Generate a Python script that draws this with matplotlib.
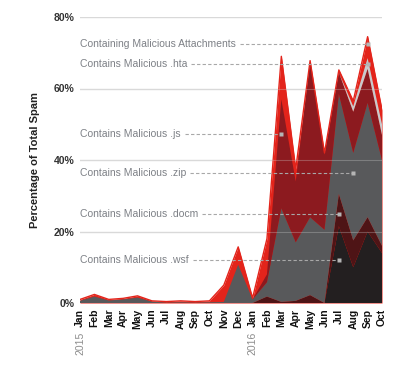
import numpy as np
import matplotlib
matplotlib.use("Agg")
import matplotlib.pyplot as plt
import matplotlib.transforms as mtransforms

# months Jan 2015 .. Oct 2016
months = ["Jan", "Feb", "Mar", "Apr", "May", "Jun", "Jul", "Aug", "Sep", "Oct", "Nov", "Dec",
          "Jan", "Feb", "Mar", "Apr", "May", "Jun", "Jul", "Aug", "Sep", "Oct"]
years = {0: "2015", 12: "2016"}

# share of total spam (%)
total = [1.0, 2.4, 1.0, 1.3, 2.0, 0.6, 0.4, 0.6, 0.4, 0.6, 5.0, 15.7,
         1.4, 18.0, 69.0, 37.5, 67.8, 42.0, 65.2, 56.5, 74.5, 54.0]
wsf = [0, 0, 0, 0, 0, 0, 0, 0, 0, 0, 0, 0,
       0, 0, 0, 0, 0, 0, 21.5, 10.0, 20.0, 14.0]
docm = [0, 0, 0, 0, 0, 0, 0, 0, 0, 0, 0, 0,
        0, 1.8, 0.3, 0.6, 2.2, 0, 9.0, 7.5, 4.0, 2.0]
zip_ = [0.6, 1.8, 0.7, 1.0, 1.5, 0.4, 0.1, 0.2, 0.1, 0.2, 0.3, 10.7,
        1.0, 4.0, 26.2, 16.4, 21.8, 20.5, 28.0, 24.5, 32.0, 24.0]
js = [0, 0, 0, 0, 0, 0, 0, 0, 0, 0, 0, 0,
      0, 2.2, 30.5, 17.0, 43.5, 21.0, 6.0, 11.5, 9.5, 7.0]
hta = [0, 0, 0, 0, 0, 0, 0, 0, 0, 0, 0, 0,
       0, 0, 0, 0, 0, 0, 0, 1.5, 3.0, 3.0]

# callouts: text, month index, value
callouts = [
    ("Containing Malicious Attachments", 20, 72.4),
    ("Contains Malicious .hta", 20, 66.9),
    ("Contains Malicious .js", 14, 47.3),
    ("Contains Malicious .zip", 19, 36.4),
    ("Contains Malicious .docm", 18, 24.9),
    ("Contains Malicious .wsf", 18, 12.0),
]

plt.rcParams["font.family"] = ["Liberation Sans", "DejaVu Sans"]

x = np.arange(len(months))

fig = plt.figure(figsize=(4.11, 3.72), dpi=100)
ax = fig.add_axes([80 / 411, 1 - 303 / 372, 302 / 411, 286 / 372])

# total drawn behind, the attachment types stacked on top
ax.fill_between(x, 0, total, color="#e3241b", lw=0, zorder=1)
ax.stackplot(x, wsf, docm, zip_, js, hta,
             colors=["#231f20", "#4e1416", "#58595b", "#8c1a1f", "#c9cacc"],
             lw=0, zorder=2)
ax.plot(x, total, color="#e3241b", lw=1.0, zorder=3)

ax.set_xlim(0, len(months) - 1)
ax.set_ylim(0, 80)
yt = [0, 20, 40, 60, 80]
ax.set_yticks(yt)
ax.set_yticklabels([f"{v}%" for v in yt], fontweight="bold", color="#333333", fontsize=7.5)
ax.set_xticks(x)
ax.set_xticklabels(months, rotation=90, fontweight="bold", fontsize=7.5, color="#111111")
ax.tick_params(length=0, pad=4)
for s in ax.spines.values():
    s.set_visible(False)

# gridlines: solid behind, faint over the areas
for v in [20, 40, 60, 80]:
    ax.axhline(v, color="#dcdcdc", lw=1.0, zorder=0)
    ax.axhline(v, color="#d4d4d4", lw=0.8, alpha=0.3, zorder=4)

trans = mtransforms.blended_transform_factory(ax.transData, ax.transAxes)
for i, yr in years.items():
    ax.text(i, -0.1, yr, rotation=90, ha="center", va="top", fontsize=7.5,
            color="#8c8c8c", transform=trans)

fig.text(35 / 411, 1 - 160 / 372, "Percentage of Total Spam", rotation=90,
         ha="center", va="center", fontsize=8, fontweight="bold", color="#222222")

# callout labels with dashed leaders
fig.canvas.draw()
renderer = fig.canvas.get_renderer()
inv = ax.transData.inverted()
for label, mi, val in callouts:
    t = ax.text(0, val, label, ha="left", va="center", fontsize=7.5, color="#7d8086", zorder=5)
    bb = t.get_window_extent(renderer)
    x0 = inv.transform((bb.x1 + 4, 0))[0]
    ax.plot([x0, mi], [val, val], color="#a8a8a8", lw=0.8, ls=(0, (3, 2)), zorder=5)
    ax.plot(mi, val, marker="s", ms=3.2, color="#b5b5b5", mec="none", zorder=6)

fig.savefig("out.png", dpi=100, facecolor="white")
